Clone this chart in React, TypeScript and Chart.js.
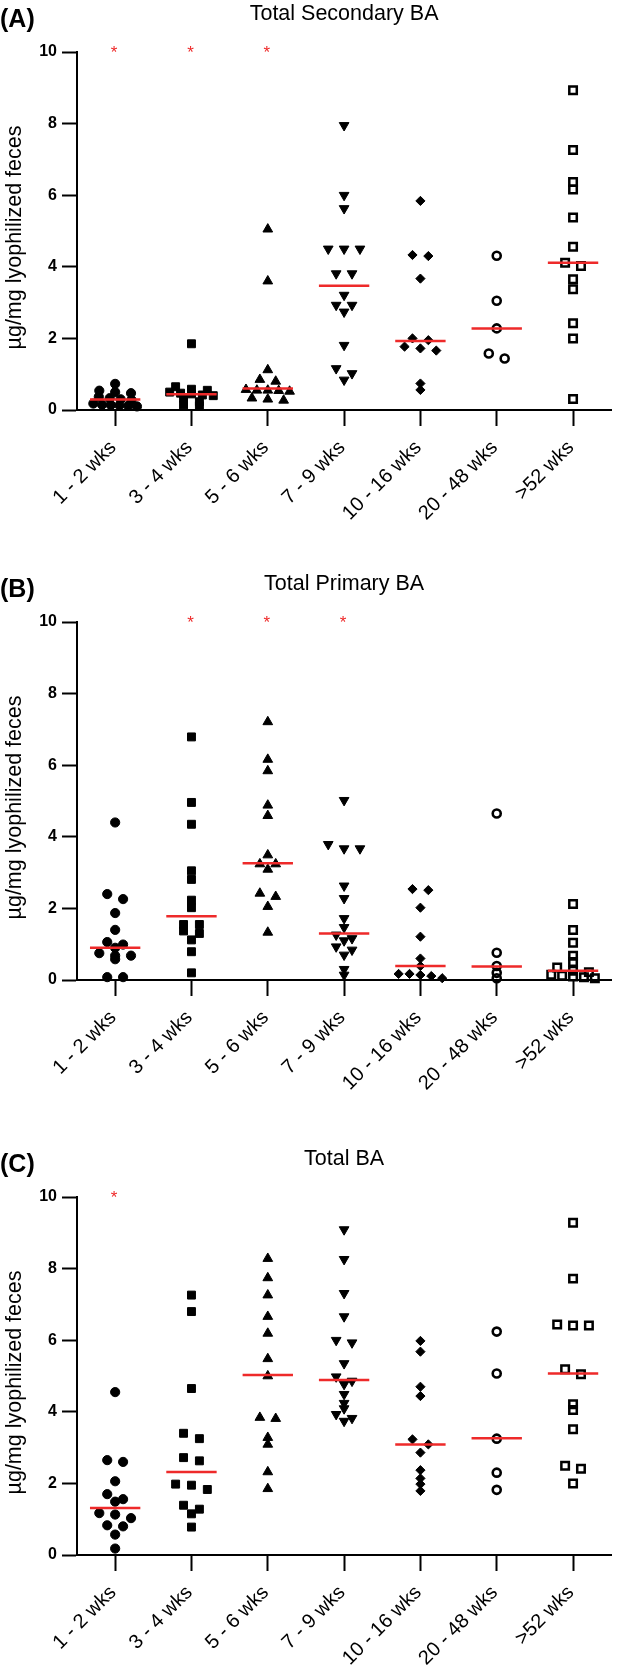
import React, { useEffect, useRef } from "react";
import { Chart, registerables } from "chart.js";

Chart.register(...registerables);

const FONT = "'Liberation Sans', Arial, Helvetica, sans-serif";
const RED = "#ee2a2a";

// ---------- data ----------
const categories = ["1 - 2 wks", "3 - 4 wks", "5 - 6 wks", "7 - 9 wks", "10 - 16 wks", "20 - 48 wks", ">52 wks"];
const yTicks = [0, 2, 4, 6, 8, 10];
const yAxisTitle = "µg/mg lyophilized feces";

const secondaryValues = [
  [0.73, 0.54, 0.5, 0.47, 0.37, 0.33, 0.3, 0.28, 0.18, 0.15, 0.14, 0.13, 0.12, 0.1],
  [1.85, 0.65, 0.58, 0.55, 0.5, 0.47, 0.45, 0.42, 0.4, 0.33, 0.23, 0.14, 0.12],
  [5.05, 3.6, 1.12, 0.85, 0.8, 0.57, 0.55, 0.55, 0.54, 0.52, 0.33, 0.3, 0.27],
  [7.95, 6.0, 5.63, 4.5, 4.5, 4.5, 3.81, 3.81, 3.21, 2.93, 2.93, 2.74, 1.81, 1.16, 1.02, 0.84],
  [5.84, 4.33, 4.3, 3.67, 2.0, 1.95, 1.77, 1.72, 1.66, 0.74, 0.56],
  [4.31, 3.05, 2.28, 1.58, 1.44],
  [8.93, 7.26, 6.37, 6.16, 5.38, 4.56, 4.11, 4.02, 3.65, 3.37, 2.42, 2.0, 0.31],
];
const secondaryMedians = [0.29, 0.44, 0.6, 3.47, 1.93, 2.28, 4.11];
const secondarySignificant = [true, true, true, false, false, false, false];

const primaryValues = [
  [4.4, 2.4, 2.26, 1.87, 1.4, 1.06, 0.99, 0.9, 0.75, 0.68, 0.68, 0.58, 0.08, 0.08],
  [6.79, 4.96, 4.35, 3.05, 2.81, 2.23, 2.02, 1.55, 1.55, 1.37, 1.3, 1.12, 0.79, 0.2],
  [7.21, 6.16, 5.84, 4.88, 4.59, 3.49, 3.24, 3.24, 3.09, 2.42, 2.33, 2.05, 1.33],
  [5.02, 3.79, 3.67, 3.67, 2.63, 2.28, 1.72, 1.47, 1.26, 1.16, 1.1, 0.93, 0.84, 0.7, 0.3, 0.14],
  [2.54, 2.51, 2.02, 1.21, 0.6, 0.39, 0.17, 0.17, 0.14, 0.11, 0.05],
  [4.65, 0.76, 0.39, 0.2, 0.05],
  [2.12, 1.4, 1.04, 0.68, 0.5, 0.35, 0.26, 0.22, 0.15, 0.12, 0.1, 0.08, 0.05],
];
const primaryMedians = [0.9, 1.78, 3.26, 1.3, 0.39, 0.38, 0.26];
const primarySignificant = [false, true, true, true, false, false, false];

const totalValues = [
  [4.55, 2.65, 2.6, 2.06, 1.7, 1.56, 1.49, 1.17, 1.13, 1.03, 0.83, 0.8, 0.57, 0.18],
  [7.26, 6.8, 4.65, 3.4, 3.25, 2.72, 2.63, 1.98, 1.95, 1.83, 1.39, 1.28, 1.15, 0.78],
  [8.28, 7.74, 7.26, 6.66, 6.19, 5.48, 5.0, 3.84, 3.81, 3.28, 3.09, 2.32, 1.85],
  [9.09, 8.26, 7.31, 6.66, 6.0, 5.93, 5.35, 4.98, 4.86, 4.77, 4.49, 4.24, 4.09, 3.93, 3.82, 3.74],
  [5.98, 5.68, 4.7, 4.44, 3.23, 3.09, 2.86, 2.37, 2.14, 1.98, 1.79],
  [6.24, 5.07, 3.25, 2.3, 1.82],
  [9.28, 7.72, 6.44, 6.41, 6.41, 5.19, 5.05, 4.21, 4.05, 3.51, 2.49, 2.41, 2.0],
];
const totalMedians = [1.31, 2.32, 5.03, 4.89, 3.09, 3.26, 5.07];
const totalSignificant = [true, false, false, false, false, false, false];

// ---------- styles ----------
const markerStyles = [
  { pointStyle: "circle", radius: 4.6, rotation: 0, filled: true, borderWidth: 1 },
  { pointStyle: "rect", radius: 5.6, rotation: 0, filled: true, borderWidth: 1 },
  { pointStyle: "triangle", radius: 5.6, rotation: 0, filled: true, borderWidth: 1 },
  { pointStyle: "triangle", radius: 5.6, rotation: 180, filled: true, borderWidth: 1 },
  { pointStyle: "rectRot", radius: 4.6, rotation: 0, filled: true, borderWidth: 1 },
  { pointStyle: "circle", radius: 4, rotation: 0, filled: false, borderWidth: 2.6 },
  { pointStyle: "rect", radius: 5.3, rotation: 0, filled: false, borderWidth: 2.5 },
];

const PLOT_TOP = 52;
const PLOT_HEIGHT = 358;
const AXIS_LEFT = 77;
const CANVAS_W = 619;
const CAT_PX = 77; // width of one category in px
const ROW_TOL = 0.15; // values closer than this share a row
const MEDIAN_HALF = 0.33;

// column-scatter layout: group near-equal values into rows, centre each row
function columnOffsets(values: number[]): number[] {
  const order = values.map((_, i) => i).sort((a, b) => values[b] - values[a]);
  const out = new Array(values.length).fill(0);
  let row: number[] = [];
  const flush = () => {
    const n = row.length;
    const step = n <= 3 ? 16 : Math.min(11, 44 / (n - 1));
    row.forEach((idx, j) => {
      out[idx] = ((j - (n - 1) / 2) * step) / CAT_PX;
    });
    row = [];
  };
  for (const idx of order) {
    if (row.length && values[row[0]] - values[idx] > ROW_TOL) flush();
    row.push(idx);
  }
  if (row.length) flush();
  return out;
}

const textPlugin = {
  id: "panelText",
  afterDraw(chart: any, _args: any, opts: any) {
    const { ctx, chartArea, scales } = chart;
    ctx.save();
    ctx.fillStyle = "#000";
    ctx.textBaseline = "middle";
    ctx.textAlign = "left";
    ctx.font = `bold 25px ${FONT}`;
    ctx.fillText(`(${opts.letter})`, 0, 20.5);
    ctx.textAlign = "center";
    ctx.font = `21.5px ${FONT}`;
    ctx.fillText(opts.title, (chartArea.left + chartArea.right) / 2, 14);
    ctx.save();
    ctx.translate(15.5, (chartArea.top + chartArea.bottom) / 2 + 6.5);
    ctx.rotate(-Math.PI / 2);
    ctx.fillText(yAxisTitle, 0, 0);
    ctx.restore();
    ctx.fillStyle = RED;
    ctx.font = `17px ${FONT}`;
    ctx.textBaseline = "alphabetic";
    const yTop = scales.y.getPixelForValue(10);
    (opts.significant as boolean[]).forEach((s, i) => {
      if (s) ctx.fillText("*", scales.x.getPixelForValue(i) - 1, yTop + 6);
    });
    ctx.restore();
  },
};

type PanelProps = {
  top: number;
  height: number;
  letter: string;
  title: string;
  values: number[][];
  medians: number[];
  significant: boolean[];
};

function Panel({ top, height, letter, title, values, medians, significant }: PanelProps) {
  const ref = useRef<HTMLCanvasElement>(null);
  useEffect(() => {
    const medianData: any[] = [];
    medians.forEach((m, i) => {
      medianData.push({ x: i - MEDIAN_HALF, y: m }, { x: i + MEDIAN_HALF, y: m }, { x: i + 0.5, y: null });
    });
    const pointSets = values.map((vals, i) => {
      const st = markerStyles[i];
      const offs = columnOffsets(vals);
      return {
        type: "scatter",
        label: categories[i],
        data: vals.map((v, j) => ({ x: i + offs[j], y: v })),
        pointStyle: st.pointStyle,
        pointRadius: st.radius,
        pointRotation: st.rotation,
        backgroundColor: st.filled ? "#000" : "rgba(0,0,0,0)",
        borderColor: "#000",
        borderWidth: st.borderWidth,
        clip: false,
        order: 1,
      };
    });
    const chart = new Chart(ref.current as HTMLCanvasElement, {
      type: "scatter",
      data: {
        datasets: [
          {
            type: "line",
            label: "Median",
            data: medianData,
            borderColor: RED,
            borderWidth: 2.5,
            pointRadius: 0,
            spanGaps: false,
            clip: false,
            order: 0,
          } as any,
          ...(pointSets as any[]),
        ],
      },
      options: {
        animation: false,
        responsive: false,
        maintainAspectRatio: false,
        events: [],
        layout: { padding: { left: 0, right: 3, top: PLOT_TOP, bottom: 0 } },
        plugins: {
          legend: { display: false },
          tooltip: { enabled: false },
          title: { display: false },
          panelText: { letter, title, significant },
        } as any,
        scales: {
          x: {
            type: "linear",
            min: -0.5,
            max: categories.length - 0.5,
            afterBuildTicks: (s: any) => {
              s.ticks = categories.map((_, i) => ({ value: i }));
            },
            afterFit: (s: any) => {
              s.height = height - PLOT_TOP - PLOT_HEIGHT;
            },
            grid: { drawOnChartArea: false, drawTicks: true, tickLength: 16, tickWidth: 2, tickColor: "#000", color: "#000" },
            border: { display: true, color: "#000", width: 2 },
            ticks: {
              autoSkip: false,
              minRotation: 45,
              maxRotation: 45,
              padding: 10,
              labelOffset: -2,
              color: "#000",
              font: { family: FONT, size: 20 },
              callback: (v: any) => categories[Math.round(Number(v))],
            },
          },
          y: {
            type: "linear",
            min: 0,
            max: 10,
            afterBuildTicks: (s: any) => {
              s.ticks = yTicks.map((v) => ({ value: v }));
            },
            afterFit: (s: any) => {
              s.width = AXIS_LEFT;
            },
            grid: { drawOnChartArea: false, drawTicks: true, tickLength: 15, tickWidth: 2, tickColor: "#000", color: "#000" },
            border: { display: true, color: "#000", width: 2 },
            ticks: {
              padding: 5,
              color: "#000",
              font: { family: FONT, size: 16, weight: "bold" },
            },
          },
        },
      } as any,
      plugins: [textPlugin],
    });
    return () => chart.destroy();
  }, []);
  return (
    <canvas
      ref={ref}
      width={CANVAS_W}
      height={height}
      style={{ position: "absolute", left: 0, top, width: CANVAS_W, height }}
    />
  );
}

export default function App() {
  return (
    <div style={{ position: "absolute", left: 0, top: 0, width: 619, height: 1677, background: "#fff" }}>
      <Panel top={0} height={570} letter="A" title="Total Secondary BA" values={secondaryValues} medians={secondaryMedians} significant={secondarySignificant} />
      <Panel top={570} height={575} letter="B" title="Total Primary BA" values={primaryValues} medians={primaryMedians} significant={primarySignificant} />
      <Panel top={1145} height={532} letter="C" title="Total BA" values={totalValues} medians={totalMedians} significant={totalSignificant} />
    </div>
  );
}
